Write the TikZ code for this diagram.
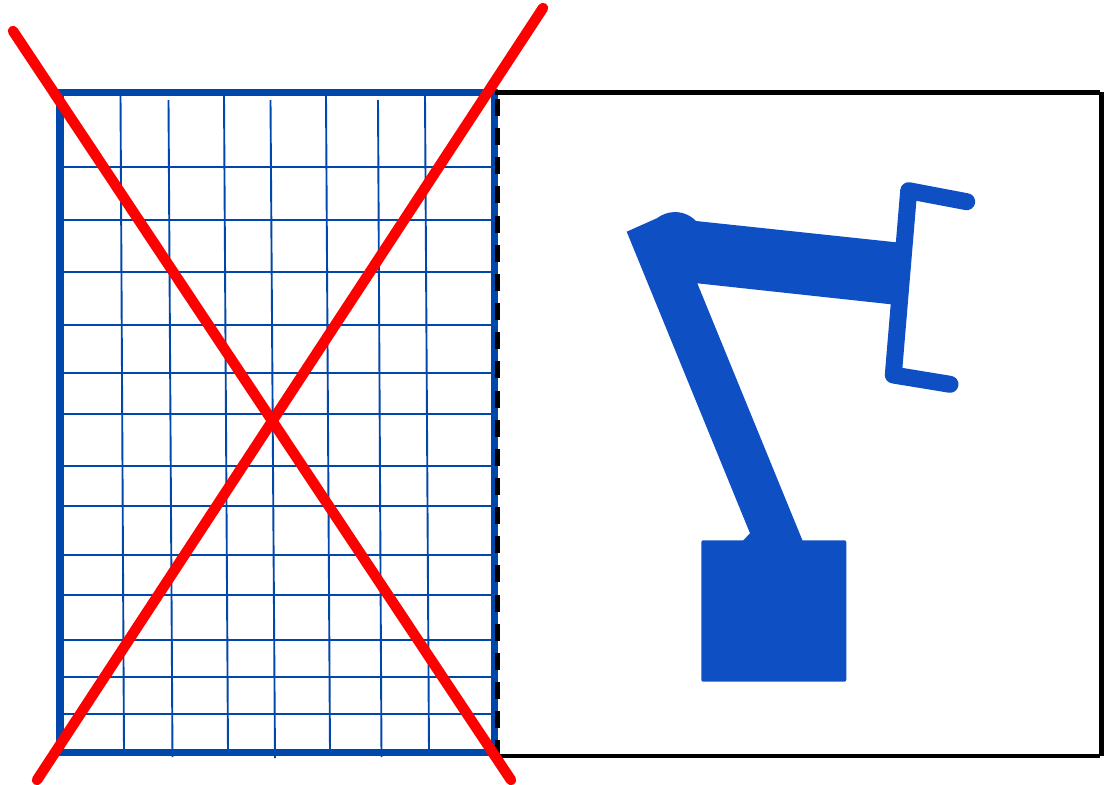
\documentclass[tikz,border=0pt]{standalone}
\definecolor{gridblue}{HTML}{0047AB}
\definecolor{robotblue}{HTML}{0F4FC4}
\tikzset{
  gridline/.style={draw=gridblue,line width=1.9pt},
  frameline/.style={draw=gridblue,line width=6.5pt,line cap=rect},
  frameside/.style={draw=gridblue,line width=7.5pt},
  boxline/.style={draw=black,line width=4.6pt},
  crossline/.style={draw=red,line width=10.5pt,line cap=round},
  robotfill/.style={fill=robotblue,draw=none},
  gripper/.style={draw=robotblue,line width=17pt,line cap=round,line join=round}
}
\begin{document}
\begin{tikzpicture}[x=1pt,y=-1pt]
\useasboundingbox (0,0) rectangle (1105,784);
% grid
\foreach \y in {167,220,272,325,373,414,466,506,555,595,640,677,714}
  \draw[gridline] (60,\y) -- (494,\y);
\draw[gridline] (120.5,94) -- (124,752);
\draw[gridline] (168.5,100) -- (172.5,757);
\draw[gridline] (224,96) -- (228,752);
\draw[gridline] (270.5,100) -- (275,758);
\draw[gridline] (326,96) -- (330,752);
\draw[gridline] (378,100) -- (381.5,757);
\draw[gridline] (425,96) -- (429,752);
% blue frame
\draw[frameline] (60,92.5) rectangle (495,752.5);
\draw[frameside] (60,92.5) -- (60,752.5);
\draw[frameside] (494.5,92.5) -- (494.5,752.5);
% black box
\draw[boxline] (495,92.5) -- (1100,92.5);
\draw[boxline] (1101.5,92) -- (1101.5,756);
\draw[boxline] (497,756) -- (1100,756);
\draw[draw=black,line width=5.5pt,dash pattern=on 17pt off 12.15pt] (497.5,99) -- (497.5,756);
% robot
\fill[robotfill,rounded corners=2pt] (701.3,540.3) rectangle (846.3,681.7);
\fill[robotfill] (626.7,231.7) -- (656.7,218.3)
  .. controls (668,210) and (684,209) .. (696,221)
  -- (898,242.5) -- (892,304.4) -- (697.3,283.3) -- (802.7,541)
  -- (742.7,541) -- (750,533.3) -- cycle;
\draw[gripper] (966.7,201.7) -- (908.7,190.7) -- (893.3,375) -- (950,384.3);
% red cross
\draw[crossline] (13,31) -- (511,780);
\draw[crossline] (37,780) -- (543,8);
\end{tikzpicture}
\end{document}
